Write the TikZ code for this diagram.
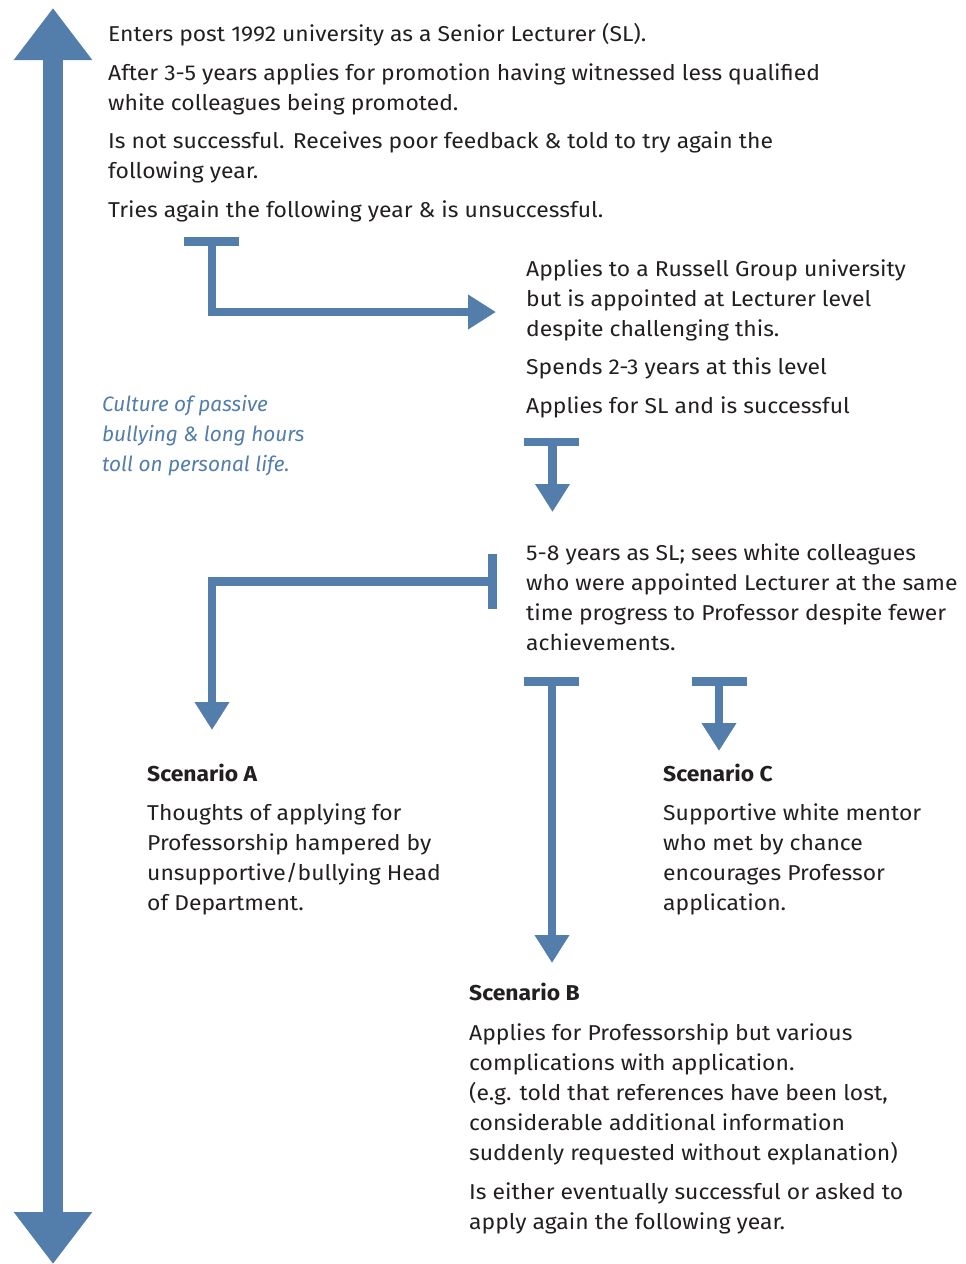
\documentclass[tikz,border=0pt]{standalone}
\usepackage{fontspec}
\setmainfont{Fira Sans}[FakeStretch=1.065]
\newfontfamily\notefont{Fira Sans}
\usetikzlibrary{arrows.meta}
\definecolor{arrowblue}{RGB}{83,125,170}
\definecolor{textdark}{RGB}{35,31,32}
\begin{document}
\begin{tikzpicture}[x=1pt,y=-1pt,
  txt/.style={anchor=base west, inner sep=0pt, font=\fontsize{21.5}{30}\selectfont, text=textdark},
  headtxt/.style={txt, font=\fontsize{21.5}{30}\selectfont\bfseries},
  notetxt/.style={txt, font=\notefont\fontsize{20.8}{30}\selectfont\itshape, text=arrowblue},
  conn/.style={draw=arrowblue, line width=8.5pt, line join=miter, -{Triangle[width=33pt,length=28pt]}},
  tbar/.style={draw=arrowblue, line width=8.5pt},
  timeline/.style={draw=arrowblue, line width=20pt, {Triangle[width=75pt,length=52pt]}-{Triangle[width=75pt,length=52pt]}}]
\useasboundingbox (0,0) rectangle (966,1264);

% timeline
\coordinate (tltop) at (53,8);
\coordinate (tlbot) at (53,1264);
\draw[timeline] (tlbot) -- (tltop);

% block 1
\node[txt] (t1) at (108,41) {Enters post 1992 university as a Senior Lecturer (SL).};
\node[txt] (t2a) at (108,80) {After 3-5 years applies for promotion having witnessed less qualified};
\node[txt] (t2b) at (108,110) {white colleagues being promoted.};
\node[txt] (t3a) at (108,148) {Is not successful. Receives poor feedback \& told to try again the};
\node[txt] (t3b) at (108,178) {following year.};
\node[txt] (t4) at (108,217) {Tries again the following year \& is unsuccessful.};

% block 2
\node[txt] (r1a) at (526,276) {Applies to a Russell Group university};
\node[txt] (r1b) at (526,306) {but is appointed at Lecturer level};
\node[txt] (r1c) at (526,336) {despite challenging this.};
\node[txt] (r2) at (526,374) {Spends 2-3 years at this level};
\node[txt] (r3) at (526,413) {Applies for SL and is successful};

% note
\node[notetxt] (n1) at (102,411) {Culture of passive};
\node[notetxt] (n2) at (102,441) {bullying \& long hours};
\node[notetxt] (n3) at (102,471) {toll on personal life.};

% block 3
\node[txt] (s1) at (526,560) {5-8 years as SL; sees white colleagues};
\node[txt] (s2) at (526,590) {who were appointed Lecturer at the same};
\node[txt] (s3) at (526,620) {time progress to Professor despite fewer};
\node[txt] (s4) at (526,650) {achievements.};

% scenario A
\node[headtxt] (sah) at (147,781) {Scenario A};
\node[txt] (sa1) at (147,820) {Thoughts of applying for};
\node[txt] (sa2) at (147,850) {Professorship hampered by};
\node[txt] (sa3) at (147,880) {unsupportive/bullying Head};
\node[txt] (sa4) at (147,910) {of Department.};

% scenario C
\node[headtxt] (sch) at (663,781) {Scenario C};
\node[txt] (sc1) at (663,820) {Supportive white mentor};
\node[txt] (sc2) at (663,850) {who met by chance};
\node[txt] (sc3) at (663,880) {encourages Professor};
\node[txt] (sc4) at (663,910) {application.};

% scenario B
\node[headtxt] (sbh) at (469,1000) {Scenario B};
\node[txt] (sb1) at (469,1040) {Applies for Professorship but various};
\node[txt] (sb2) at (469,1070) {complications with application.};
\node[txt] (sb3) at (469,1100) {(e.g. told that references have been lost,};
\node[txt] (sb4) at (469,1130) {considerable additional information};
\node[txt] (sb5) at (469,1160) {suddenly requested without explanation)};
\node[txt] (sb6) at (469,1199) {Is either eventually successful or asked to};
\node[txt] (sb7) at (469,1229) {apply again the following year.};

% connector 1
\coordinate (c1bl) at (184,241.5);
\coordinate (c1br) at (239,241.5);
\coordinate (c1s) at (212,241.5);
\coordinate (c1e) at (496,312);
\draw[tbar] (c1bl) -- (c1br);
\draw[conn] (c1s) |- (c1e);

% connector 2
\coordinate (c2bl) at (524,442);
\coordinate (c2br) at (579,442);
\coordinate (c2s) at (552.5,442);
\coordinate (c2e) at (552.5,512);
\draw[tbar] (c2bl) -- (c2br);
\draw[conn] (c2s) -- (c2e);

% connector 3
\coordinate (c3bt) at (492.5,554);
\coordinate (c3bb) at (492.5,609);
\coordinate (c3s) at (492.5,581.5);
\coordinate (c3e) at (212,730);
\draw[tbar] (c3bt) -- (c3bb);
\draw[conn] (c3s) -| (c3e);

% connector 4
\coordinate (c4bl) at (524,681.5);
\coordinate (c4br) at (579,681.5);
\coordinate (c4s) at (552,681.5);
\coordinate (c4e) at (552,963);
\draw[tbar] (c4bl) -- (c4br);
\draw[conn] (c4s) -- (c4e);

% connector 5
\coordinate (c5bl) at (692,681.5);
\coordinate (c5br) at (747,681.5);
\coordinate (c5s) at (719,681.5);
\coordinate (c5e) at (719,751);
\draw[tbar] (c5bl) -- (c5br);
\draw[conn] (c5s) -- (c5e);
\end{tikzpicture}
\end{document}
